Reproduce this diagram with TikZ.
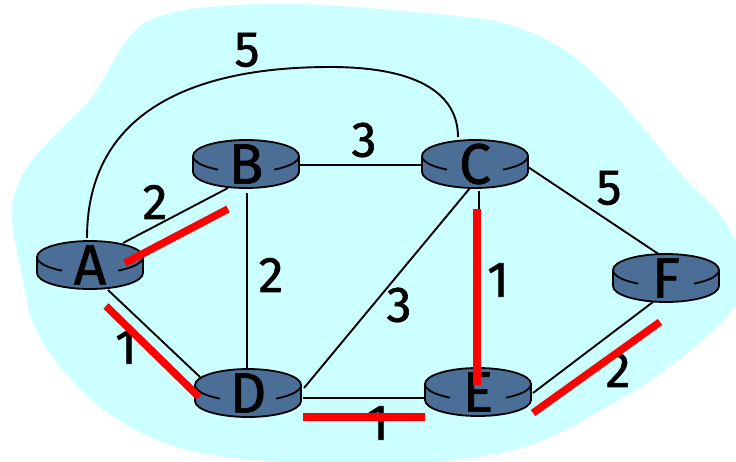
\documentclass[tikz,border=0pt]{standalone}
\usepackage{fontspec}
\newfontfamily\netfont[FakeBold=1.2]{Fira Sans}
\usetikzlibrary{calc}

\definecolor{cloudcyan}{RGB}{204,255,255}
\definecolor{routerblue}{RGB}{75,110,150}
\definecolor{treered}{RGB}{255,0,0}

\begin{document}
\begin{tikzpicture}[
  x = 1pt, y = -1pt,
  % ── Router icon (cylinder) ──────────────────────────────
  router/.pic={
    \filldraw[fill = routerblue, draw = black, line width = 1.8pt]
      (-53pt,8pt) -- (-53pt,-8pt)
      arc[start angle=180, end angle=360, x radius=53pt, y radius=16pt]
      -- (53pt,8pt)
      arc[start angle=0, end angle=180, x radius=53pt, y radius=16pt]
      -- cycle;
    \draw[line width = 1.8pt] (-53pt,8pt)
      arc[start angle=180, end angle=238, x radius=53pt, y radius=16pt];
    \draw[line width = 1.8pt] (53pt,8pt)
      arc[start angle=360, end angle=302, x radius=53pt, y radius=16pt];
  },
  % ── Router name ─────────────────────────────────────────
  rlabel/.style={
    inner sep = 0pt,
    font      = \netfont\fontsize{57}{62}\selectfont
  },
  % ── Link cost ───────────────────────────────────────────
  cost/.style={
    inner sep = 0pt,
    font      = \netfont\fontsize{50}{54}\selectfont
  },
  % ── Links ───────────────────────────────────────────────
  link/.style={
    draw       = black,
    line width = 1.9pt
  },
  sptree/.style={
    draw       = treered,
    line width = 7.5pt
  }
]
\useasboundingbox (0,0) rectangle (736,461);

% ── Network cloud ──────────────────────────────────────────
\begin{scope}
  \clip (0,0) rectangle (736,461);
  \fill[cloudcyan] plot[smooth cycle, tension=0.55] coordinates {
    (13,230) (13,200) (27,167) (57,133) (90,100) (110,67) (127,40)
    (150,20) (200,8) (300,4) (436,14) (503,23) (553,43) (586,67)
    (619,100) (653,140) (686,180) (719,213) (740,255) (738,300)
    (705,338) (651,380) (601,410) (551,437) (501,453) (435,462)
    (350,466) (267,461) (200,453) (150,437) (100,407) (57,363)
    (33,323) (23,280)};
\end{scope}

% ── Links ──────────────────────────────────────────────────
\coordinate (A) at (90,265);
\coordinate (B) at (246,164);
\coordinate (C) at (475,164);
\coordinate (D) at (248,393);
\coordinate (E) at (478,392);
\coordinate (F) at (666,278);

\foreach \f/\fx/\fy/\t/\tx/\ty in {A/33/-22/B/-18/24, A/18/25/D/-48/-16,
                                   B/1/29/D/-1/-25, B/54/1/C/-52/1,
                                   C/-5/24/D/56/-5, C/4/27/E/1/-24,
                                   C/53/3/F/-6/-23, D/55/5/E/-53/6,
                                   E/55/1/F/-13/24}
  \draw[link] ($(\f)+(\fx,\fy)$) -- ($(\t)+(\tx,\ty)$);

\draw[link] ($(A)+(-3,-27)$) .. controls (87,120) and (180,67) .. (330,67)
  .. controls (425,67) and (458,98) .. ($(C)+(-17,-27)$);

% ── Routers ────────────────────────────────────────────────
\foreach \n in {A,B,C,D,E,F}{
  \pic at (\n) {router};
  \node[rlabel] (r\n) at (\n) {\n};
}

% ── Costs ──────────────────────────────────────────────────
\node[cost] (wAC) at (247,50)  {5};
\node[cost] (wBC) at (364,140) {3};
\node[cost] (wAB) at (155,202) {2};
\node[cost] (wBD) at (271,275) {2};
\node[cost] (wCD) at (399,305) {3};
\node[cost] (wCE) at (498,280) {1};
\node[cost] (wCF) at (609,188) {5};
\node[cost] (wAD) at (126,347) {1};
\node[cost] (wDE) at (378,423) {1};
\node[cost] (wEF) at (618,370) {2};

% ── Shortest path tree ─────────────────────────────────────
\foreach \f/\fx/\fy/\t/\tx/\ty in {A/35/-2/B/-18/45, A/16/41/D/-49/4,
                                   D/55/24/E/-53/25, C/2/45/E/-1/-7,
                                   E/55/21/F/-6/44}
  \draw[sptree] ($(\f)+(\fx,\fy)$) -- ($(\t)+(\tx,\ty)$);

\end{tikzpicture}
\end{document}
